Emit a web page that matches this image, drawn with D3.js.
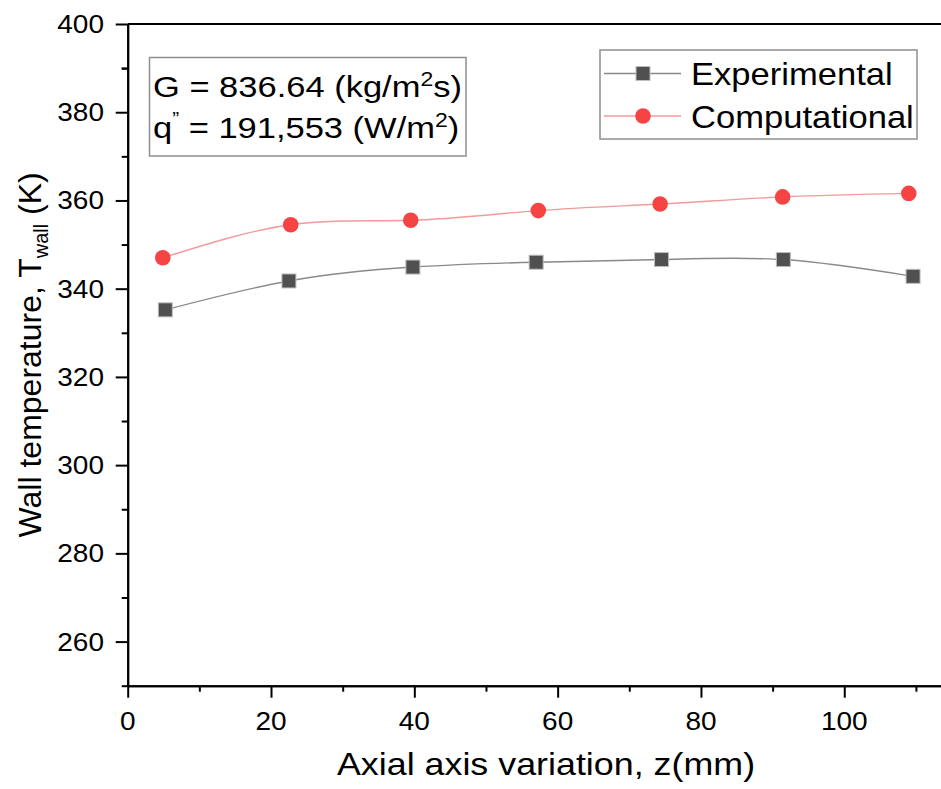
<!DOCTYPE html>
<html>
<head>
<meta charset="utf-8">
<script src="https://cdn.jsdelivr.net/npm/d3@7/dist/d3.min.js"></script>
<style>
  html, body { margin: 0; padding: 0; background: #fff; }
  svg { display: block; font-family: "Liberation Sans", Arial, sans-serif; }
</style>
</head>
<body>
<svg id="chart" width="941" height="789"></svg>
<script>
// ---- data ----
const zExperimental = [5.25, 22.5, 39.8, 57.0, 74.5, 91.5, 109.6];
const tExperimental = [335.2, 341.75, 344.9, 346.0, 346.6, 346.6, 342.8];
const zComputational = [4.9, 22.75, 39.5, 57.3, 74.3, 91.4, 109.0];
const tComputational = [347.0, 354.5, 355.5, 357.7, 359.2, 360.8, 361.6];
const xTickValues = [0, 20, 40, 60, 80, 100];
const yTickValues = [260, 280, 300, 320, 340, 360, 380, 400];
const seriesNames = ["Experimental", "Computational"];
const xDomain = [0, 113.5];
const yDomain = [250, 400];

// ---- layout ----
const svg = d3.select("#chart");
const plotLeft = 127.7, plotRight = 941, plotTop = 24, plotBottom = 685.7;
const x = d3.scaleLinear().domain(xDomain).range([plotLeft, plotRight]);
const y = d3.scaleLinear().domain(yDomain).range([plotBottom, plotTop]);

const expLine = "#8a8a8a", expFill = "#505050";
const compLine = "#f39a9a", compFill = "#f64444";

// ---- axes ----
const xMinor = d3.range(10, 120, 20);
const yMinor = d3.range(250, 400, 20).concat([390]).filter(v => !yTickValues.includes(v));

const xAxis = svg.append("g").attr("transform", `translate(0,${plotBottom})`)
  .call(d3.axisBottom(x).tickValues(xTickValues).tickSize(12).tickSizeOuter(0).tickFormat(d3.format("d")));
const xAxisMinor = svg.append("g").attr("transform", `translate(0,${plotBottom})`)
  .call(d3.axisBottom(x).tickValues(xMinor).tickSize(6).tickSizeOuter(0).tickFormat(""));
const yAxis = svg.append("g").attr("transform", `translate(${plotLeft},0)`)
  .call(d3.axisLeft(y).tickValues(yTickValues).tickSize(12).tickSizeOuter(0).tickFormat(d3.format("d")));
const yAxisMinor = svg.append("g").attr("transform", `translate(${plotLeft},0)`)
  .call(d3.axisLeft(y).tickValues(yMinor).tickSize(6).tickSizeOuter(0).tickFormat(""));

[xAxis, xAxisMinor, yAxis, yAxisMinor].forEach(g => {
  g.selectAll("path.domain").attr("stroke", "#000").attr("stroke-width", 2);
  g.selectAll(".tick line").attr("stroke", "#000").attr("stroke-width", 2);
});
xAxis.selectAll(".tick text").remove();
yAxis.selectAll(".tick text").remove();

// tick labels (slightly widened to match the reference)
xTickValues.forEach(v => {
  svg.append("text")
    .attr("transform", `translate(${x(v)},730) scale(1.12,1)`)
    .attr("text-anchor", "middle").attr("font-size", 25).attr("fill", "#000")
    .text(d3.format("d")(v));
});
yTickValues.forEach(v => {
  svg.append("text")
    .attr("transform", `translate(104,${y(v) + 9}) scale(1.12,1)`)
    .attr("text-anchor", "end").attr("font-size", 25).attr("fill", "#000")
    .text(d3.format("d")(v));
});

// top frame line
svg.append("line").attr("x1", plotLeft).attr("x2", plotRight).attr("y1", y(400)).attr("y2", y(400))
  .attr("stroke", "#000").attr("stroke-width", 2);

// ---- axis titles ----
svg.append("text")
  .attr("transform", `translate(546,775) scale(1.12,1)`)
  .attr("text-anchor", "middle").attr("font-size", 32).attr("fill", "#000")
  .text("Axial axis variation, z(mm)");

const yt = svg.append("text")
  .attr("transform", `translate(41,${(plotTop + plotBottom) / 2}) rotate(-90)`)
  .attr("text-anchor", "middle").attr("font-size", 32).attr("fill", "#000");
yt.append("tspan").text("Wall temperature, T");
yt.append("tspan").attr("font-size", 20).attr("dy", 7).text("wall");
yt.append("tspan").attr("dy", -7).text(" (K)");

// ---- lines ----
const line = d3.line().curve(d3.curveNatural).x(d => x(d[0])).y(d => y(d[1]));
const expData = zExperimental.map((z, i) => [z, tExperimental[i]]);
const compData = zComputational.map((z, i) => [z, tComputational[i]]);

svg.append("path").datum(expData).attr("d", line)
  .attr("fill", "none").attr("stroke", expLine).attr("stroke-width", 1.4);
svg.append("path").datum(compData).attr("d", line)
  .attr("fill", "none").attr("stroke", compLine).attr("stroke-width", 1.4);

// ---- markers ----
const sq = 14;
svg.append("g").selectAll("rect").data(expData).join("rect")
  .attr("x", d => x(d[0]) - sq / 2).attr("y", d => y(d[1]) - sq / 2)
  .attr("width", sq).attr("height", sq)
  .attr("fill", expFill).attr("stroke", "#bdbdbd").attr("stroke-width", 1);
svg.append("g").selectAll("circle").data(compData).join("circle")
  .attr("cx", d => x(d[0])).attr("cy", d => y(d[1])).attr("r", 7.8)
  .attr("fill", compFill);

// ---- legend ----
const lg = svg.append("g");
lg.append("rect").attr("x", 600).attr("y", 50).attr("width", 317).attr("height", 89)
  .attr("fill", "#fff").attr("stroke", "#8f8f8f").attr("stroke-width", 1.5);
const rows = [73.5, 116];
lg.append("line").attr("x1", 604).attr("x2", 681).attr("y1", rows[0]).attr("y2", rows[0])
  .attr("stroke", expLine).attr("stroke-width", 1.4);
lg.append("rect").attr("x", 643 - sq / 2).attr("y", rows[0] - sq / 2).attr("width", sq).attr("height", sq)
  .attr("fill", expFill).attr("stroke", "#bdbdbd").attr("stroke-width", 1);
lg.append("line").attr("x1", 604).attr("x2", 681).attr("y1", rows[1]).attr("y2", rows[1])
  .attr("stroke", compLine).attr("stroke-width", 1.4);
lg.append("circle").attr("cx", 643).attr("cy", rows[1]).attr("r", 7.8).attr("fill", compFill);
seriesNames.forEach((n, i) => {
  lg.append("text")
    .attr("transform", `translate(691,${rows[i] + 11.5}) scale(1.08,1)`)
    .attr("font-size", 32).attr("fill", "#000").text(n);
});

// ---- annotation box ----
const ab = svg.append("g");
ab.append("rect").attr("x", 149.5).attr("y", 57.5).attr("width", 316.5).attr("height", 98.5)
  .attr("fill", "#fff").attr("stroke", "#8f8f8f").attr("stroke-width", 1.5);
const t1 = ab.append("text").attr("transform", "translate(153,97) scale(1.15,1)")
  .attr("font-size", 30).attr("fill", "#000");
t1.append("tspan").text("G = 836.64 (kg/m");
t1.append("tspan").attr("font-size", 20).attr("dy", -11).text("2");
t1.append("tspan").attr("dy", 11).text("s)");
const t2 = ab.append("text").attr("transform", "translate(153,138) scale(1.15,1)")
  .attr("font-size", 30).attr("fill", "#000");
t2.append("tspan").text("q");
t2.append("tspan").attr("font-size", 18).attr("dy", -13).text("”");
t2.append("tspan").attr("dy", 13).text(" = 191,553 (W/m");
t2.append("tspan").attr("font-size", 20).attr("dy", -11).text("2");
t2.append("tspan").attr("dy", 11).text(")");
</script>
</body>
</html>
